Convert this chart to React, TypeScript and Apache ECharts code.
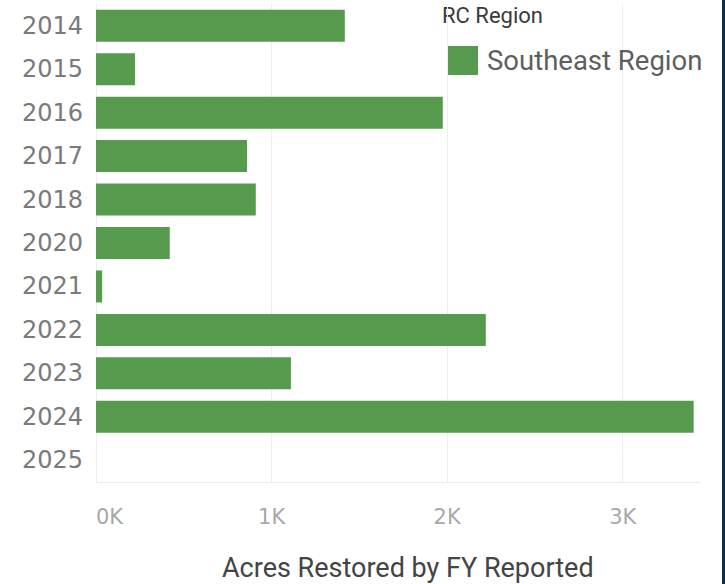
import React, { useEffect, useRef } from "react";
import * as echarts from "echarts";

const years = ["2014", "2015", "2016", "2017", "2018", "2020", "2021", "2022", "2023", "2024", "2025"];
const acres = [1417, 222, 1975, 860, 910, 420, 35, 2220, 1110, 3404, null];
const xTicks = [0, 1000, 2000, 3000];
const seriesName = "Southeast Region";
const legendTitle = "RC Region";
const axisTitle = "Acres Restored by FY Reported";

export default function App() {
  const ref = useRef<HTMLDivElement>(null);
  useEffect(() => {
    const chart = echarts.init(ref.current!, null, { renderer: "svg" });
    const gridColor = "#eeeeee";
    chart.setOption({
      animation: false,
      backgroundColor: "#ffffff",
      grid: { left: 96, top: 4, right: 25, bottom: 102, containLabel: false },
      xAxis: {
        type: "value",
        min: 0,
        max: 3440,
        interval: 1000,
        axisLine: { show: true, lineStyle: { color: "#ececec", width: 1 } },
        axisTick: { show: false },
        splitLine: { show: false },
        axisLabel: {
          customValues: xTicks,
          formatter: (v: number) => (v % 1000 === 0 ? v / 1000 + "K" : ""),
          fontFamily: "DejaVu Sans",
          fontSize: 21,
          color: "#a8a8a8",
          margin: 24,
          alignMinLabel: "left",
        },
      },
      yAxis: {
        type: "category",
        data: years,
        inverse: true,
        axisLine: { show: true, lineStyle: { color: "#e6e6e6" } },
        axisTick: { show: false },
        splitLine: { show: false },
        axisLabel: {
          fontFamily: "DejaVu Sans",
          fontSize: 24,
          color: "#7a7a7a",
          margin: 13,
        },
      },
      legend: {
        show: true,
        left: 443,
        top: 41,
        icon: "rect",
        itemWidth: 30,
        itemHeight: 29,
        data: [seriesName],
        textStyle: { fontFamily: "Roboto", fontSize: 27.5, color: "#5e5e5e", padding: [0, 0, 0, 4] },
      },
      series: [
        {
          name: seriesName,
          type: "bar",
          data: acres,
          barWidth: 32,
          z: 3,
          itemStyle: { color: "#569b4d" },
          markLine: {
            silent: true,
            symbol: "none",
            z: 1,
            label: { show: false },
            lineStyle: { color: gridColor, width: 1, type: "solid" },
            data: xTicks.map((v) => ({ xAxis: v })),
          },
        },
      ],
      graphic: [
        {
          type: "text",
          left: 442,
          top: 4,
          style: { text: legendTitle, fontFamily: "Roboto", fontSize: 22, fill: "#3a3a3a" },
        },
        {
          type: "text",
          left: 222,
          top: 554,
          style: { text: axisTitle, fontFamily: "Roboto", fontSize: 27, fill: "#444444" },
        },
        {
          type: "rect",
          shape: { x: 722, y: 0, width: 3, height: 584 },
          style: { fill: "#0b2d52" },
        },
      ],
    });
    return () => chart.dispose();
  }, []);
  return (
    <div
      ref={ref}
      style={{ position: "fixed", left: 0, top: 0, width: 725, height: 584, background: "#fff" }}
    />
  );
}
